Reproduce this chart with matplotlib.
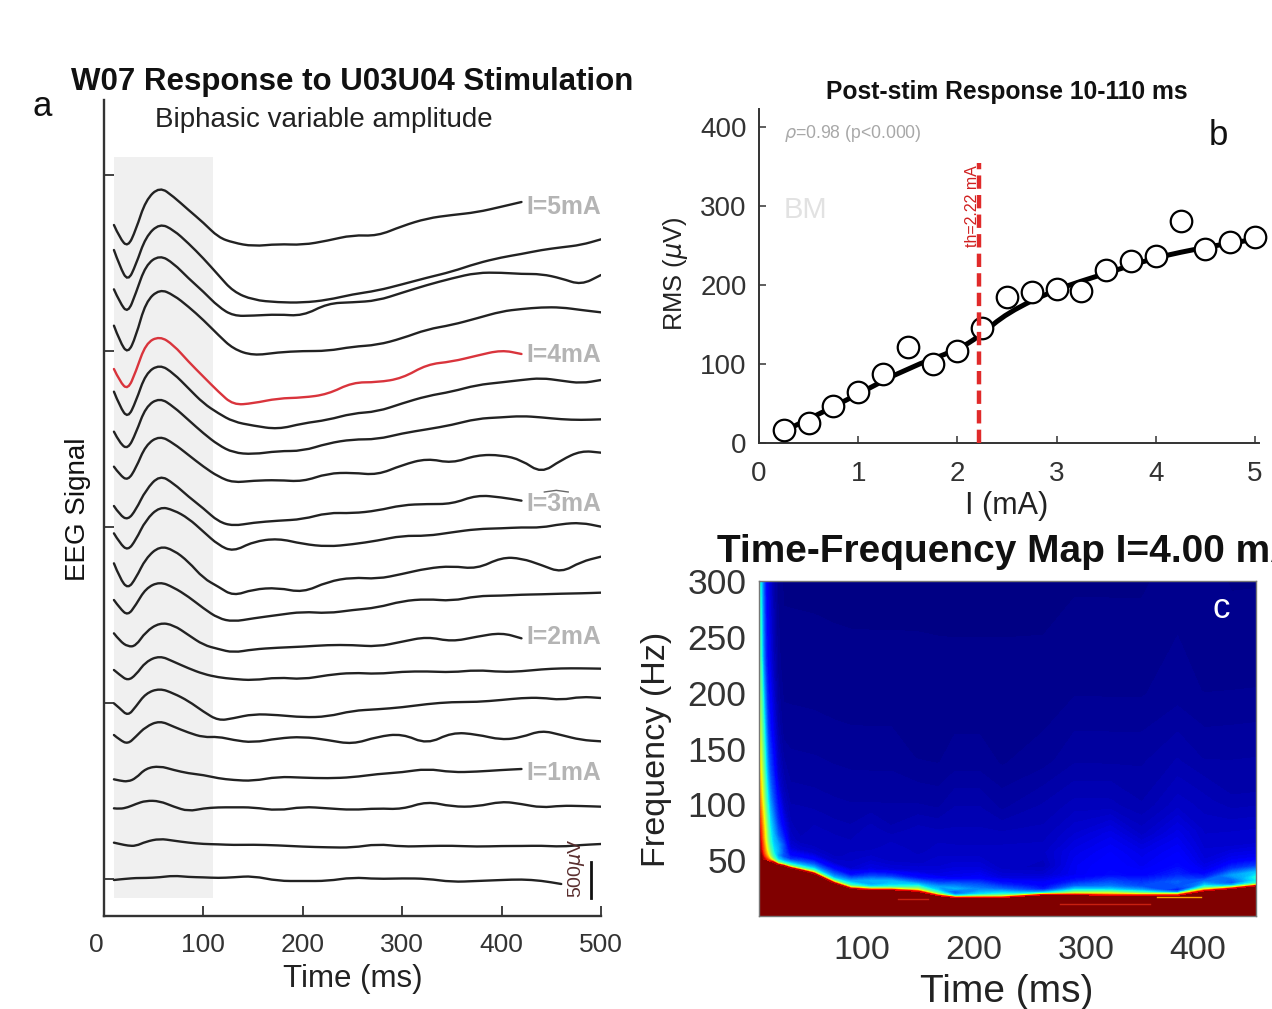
import numpy as np
import matplotlib
matplotlib.use("Agg")
import matplotlib.pyplot as plt
from matplotlib.path import Path
from matplotlib.patches import PathPatch

plt.rcParams['font.family'] = ['Liberation Sans', 'DejaVu Sans']
plt.rcParams['mathtext.fontset'] = 'dejavusans'

W, H = 1272, 1009

# ---- panel a: sampling times (ms) and stacked traces (arbitrary stacked units, down is positive)
t_eeg = [10, 16, 24, 32, 42, 56, 70, 85, 100, 115, 130, 150, 175, 200, 225, 250, 275, 300,
         325, 350, 375, 400, 420, 440, 460, 480, 500]

tr_500 = [225, 265, 292, 240, 150, 110, 140, 180, 218, 262, 278, 289, 282, 285, 272, 255, 258, 228, 205, 195, 187, 170, 156]
tr_475 = [300, 350, 395, 345, 260, 220, 240, 280, 325, 375, 425, 450, 457, 458, 450, 433, 422, 403, 383, 365, 340, 322, 312, 300, 292, 285, 268]
tr_450 = [418, 458, 490, 430, 345, 315, 340, 385, 425, 470, 498, 497, 493, 498, 460, 457, 452, 428, 405, 385, 368, 368, 372, 372, 385, 405, 375]
tr_425 = [527, 575, 612, 560, 455, 417, 435, 470, 510, 555, 597, 617, 607, 603, 603, 590, 585, 565, 538, 525, 505, 484, 477, 472, 472, 480, 487]
tr_400 = [657, 695, 720, 665, 580, 558, 585, 635, 680, 725, 765, 760, 745, 743, 733, 697, 697, 685, 643, 635, 617, 600, 612]
tr_375 = [725, 770, 805, 755, 670, 643, 670, 715, 760, 790, 815, 827, 838, 820, 810, 790, 785, 760, 738, 725, 705, 697, 690, 684, 692, 700, 690]
tr_350 = [845, 880, 898, 850, 770, 743, 770, 810, 850, 885, 908, 913, 903, 903, 880, 868, 868, 850, 838, 825, 806, 802, 798, 802, 808, 810, 808]
tr_325 = [950, 975, 992, 955, 885, 857, 880, 915, 950, 980, 998, 992, 990, 995, 970, 968, 975, 945, 925, 940, 915, 915, 930, 970, 930, 902, 908]
upper_traces = [tr_500, tr_475, tr_450, tr_425, tr_400, tr_375, tr_350, tr_325]

tr_300 = [18, 45, 60, 30, -30, -75, -50, -10, 25, 65, 78, 68, 62, 58, 38, 40, 32, 15, 12, 12, -15, -8, 2]
tr_275 = [100, 130, 152, 120, 60, 20, 30, 55, 95, 135, 155, 125, 115, 132, 140, 133, 122, 107, 108, 97, 87, 85, 82, 83, 72, 68, 80]
tr_250 = [190, 235, 267, 235, 175, 138, 150, 185, 235, 260, 288, 268, 263, 278, 245, 232, 237, 222, 205, 198, 207, 172, 175, 195, 218, 185, 170]
tr_225 = [300, 325, 347, 315, 265, 245, 262, 290, 325, 355, 365, 355, 345, 335, 340, 330, 323, 303, 297, 303, 288, 287, 284, 283, 281, 280, 278]
tr_200 = [400, 423, 440, 438, 395, 368, 375, 405, 435, 447, 458, 448, 443, 440, 435, 435, 440, 425, 410, 425, 410, 398, 415]
tr_175 = [510, 525, 542, 525, 485, 467, 485, 505, 522, 532, 537, 541, 532, 538, 525, 518, 522, 515, 514, 517, 510, 516, 514, 508, 505, 505, 506]
tr_150 = [610, 625, 648, 620, 580, 565, 580, 603, 635, 662, 655, 642, 645, 652, 650, 632, 628, 622, 612, 606, 606, 600, 594, 593, 600, 590, 594]
tr_125 = [705, 720, 732, 710, 680, 662, 680, 698, 712, 710, 720, 728, 715, 710, 720, 733, 710, 701, 733, 697, 703, 720, 712, 691, 705, 720, 724]
tr_100 = [838, 842, 845, 835, 805, 798, 810, 820, 825, 835, 840, 843, 830, 833, 835, 832, 822, 817, 806, 817, 815, 810, 807]
tr_075 = [925, 927, 922, 912, 902, 903, 920, 934, 925, 922, 922, 922, 932, 920, 925, 930, 925, 928, 904, 920, 920, 904, 912, 923, 917, 918, 920]
tr_050 = [1028, 1032, 1037, 1038, 1025, 1016, 1022, 1028, 1032, 1033, 1035, 1034, 1036, 1040, 1042, 1043, 1032, 1040, 1038, 1037, 1040, 1038, 1038, 1037, 1040, 1035, 1032]
tr_025 = [1140, 1138, 1136, 1134, 1134, 1132, 1127, 1131, 1132, 1134, 1132, 1128, 1143, 1143, 1143, 1132, 1137, 1135, 1136, 1146, 1143, 1140, 1138, 1142, 1152]
lower_traces = [tr_300, tr_275, tr_250, tr_225, tr_200, tr_175, tr_150, tr_125, tr_100, tr_075, tr_050, tr_025]
lower_shift = 1050

trace_labels = ['I=5mA', 'I=4mA', 'I=3mA', 'I=2mA', 'I=1mA']
trace_label_pos = [171, 616, 1061, 1461, 1868]
eeg_yticks = [75, 603, 1131, 1659, 2187]
eeg_xticks = [0, 100, 200, 300, 400, 500]

# ---- panel b: RMS against current
current = [0.25, 0.5, 0.75, 1, 1.25, 1.5, 1.75, 2, 2.25, 2.5, 2.75, 3, 3.25, 3.5, 3.75, 4, 4.25, 4.5, 4.75, 5]
rms = [16, 25, 47, 65, 88, 122, 100, 116, 146, 185, 191, 195, 192, 219, 230, 237, 281, 246, 254, 261]
fit_x = [0.25, 0.5, 1, 1.5, 2, 2.22, 2.5, 3, 3.5, 4, 4.5, 4.9]
fit_y = [15, 30, 62, 95, 118, 135, 165, 195, 215, 235, 248, 256]
threshold = 2.22

# ---- panel c: time-frequency map. Each row of tf_power is one time column, each value
# is the power at tf_offset Hz above the saturated floor tf_floor
tf_time = [8, 10, 12, 14, 16, 18, 21, 25, 30, 36, 45, 57, 75, 90, 108, 126, 150, 168, 183, 205, 225, 262, 290, 322, 350, 382, 406, 430, 452]
tf_floor = [53, 52, 51, 50.5, 50, 49, 48, 46, 45, 43, 41, 38, 29.5, 24.5, 23.5, 23.5, 22, 18.2, 16.5, 16.5, 16.5, 19, 19, 18.5, 18.5, 18.5, 22.5, 24.5, 27]
tf_offset = [0, 1.5, 3, 5, 8, 12, 18, 26, 38, 55, 80, 120, 180, 300]
tf_power = [
    [1, 1, 1, 1, 1, 1, .97, .93, .88, .8, .7, .6, .45, .33],
    [1, 1, .98, .95, .92, .9, .87, .84, .78, .7, .62, .52, .4, .3],
    [.95, .92, .88, .85, .82, .8, .75, .72, .66, .58, .5, .4, .26, .2],
    [.9, .85, .8, .76, .72, .68, .63, .6, .54, .45, .37, .28, .17, .12],
    [.85, .78, .72, .66, .6, .56, .5, .47, .42, .35, .27, .18, .12, .08],
    [.9, .72, .62, .55, .5, .45, .4, .37, .33, .27, .2, .14, .09, .06],
    [.95, .62, .5, .42, .38, .35, .32, .3, .26, .2, .15, .09, .05, .03],
    [.95, .55, .42, .33, .28, .3, .28, .22, .17, .13, .07, .04, .02, .01],
    [.95, .52, .38, .28, .2, .2, .2, .15, .1, .06, .04, .02, .01, .005],
    [.95, .55, .4, .3, .17, .12, .08, .06, .05, .04, .03, .02, .01, .005],
    [.95, .55, .4, .3, .2, .12, .07, .05, .04, .04, .03, .02, .01, .005],
    [.95, .6, .42, .32, .22, .13, .07, .05, .05, .04, .03, .02, .01, .005],
    [.95, .6, .42, .3, .22, .14, .07, .05, .05, .04, .03, .02, .01, .005],
    [.95, .6, .42, .35, .25, .14, .07, .06, .05, .04, .03, .02, .01, .005],
    [.9, .55, .35, .28, .3, .2, .09, .07, .05, .05, .03, .02, .01, .005],
    [.9, .55, .38, .33, .3, .18, .08, .06, .06, .04, .03, .02, .01, .005],
    [.92, .62, .5, .38, .25, .14, .08, .06, .05, .05, .03, .015, .01, .005],
    [.9, .55, .42, .33, .28, .18, .09, .07, .06, .05, .03, .015, .01, .005],
    [.9, .38, .25, .2, .3, .22, .1, .08, .06, .05, .04, .02, .01, .005],
    [.9, .5, .35, .3, .25, .2, .11, .08, .06, .05, .04, .02, .01, .005],
    [.9, .55, .4, .32, .22, .15, .08, .06, .06, .05, .03, .015, .01, .005],
    [.9, .4, .25, .15, .12, .1, .07, .05, .06, .05, .04, .02, .01, .005],
    [.9, .6, .45, .33, .22, .15, .1, .1, .09, .07, .05, .03, .015, .005],
    [.9, .65, .5, .35, .25, .2, .13, .12, .11, .09, .05, .03, .015, .005],
    [.9, .55, .4, .28, .2, .17, .12, .1, .09, .06, .04, .03, .015, .005],
    [.9, .55, .25, .14, .2, .22, .16, .13, .11, .09, .06, .04, .02, .01],
    [.92, .62, .45, .33, .25, .16, .1, .08, .07, .06, .05, .03, .015, .01],
    [.92, .55, .3, .2, .22, .28, .17, .1, .07, .06, .04, .03, .015, .005],
    [.92, .5, .38, .36, .38, .32, .18, .1, .07, .06, .04, .03, .015, .005],
]
streak_time = [[132, 159], [277, 357], [364, 403]]
streak_freq = [[15, 15], [11, 11], [17, 17]]
streak_color = ['#c82010', '#c82010', '#ffa000']


def px_axes(fig, left, top, right, bottom):
    return fig.add_axes([left / W, 1 - bottom / H, (right - left) / W, (bottom - top) / H])


def px_text(fig, x, y, s, **kw):
    kw.setdefault('ha', 'center')
    kw.setdefault('va', 'center')
    fig.text(x / W, 1 - (y + 2) / H, s, **kw)


def curve_line(ax, x, y, **kw):
    # rounded drawing of a sampled line, corners become quadratic curves
    pts = np.column_stack([x, y]).astype(float)
    verts = [pts[0]]
    codes = [Path.MOVETO]
    for i in range(1, len(pts) - 1):
        verts += [pts[i], (pts[i] + pts[i + 1]) / 2]
        codes += [Path.CURVE3, Path.CURVE3]
    verts.append(pts[-1])
    codes.append(Path.LINETO)
    ax.add_patch(PathPatch(Path(verts, codes), fill=False, capstyle='round', **kw))


fig = plt.figure(figsize=(W / 100, H / 100), dpi=100)

# Panel a
ax1 = px_axes(fig, 104, 100, 601, 916)
ax1.set_xlim(0, 500)
ax1.set_ylim(2298, -150)
ax1.fill_betweenx([21, 2244], 10, 110, color='#f0f0f0', lw=0, zorder=0)
for tr in upper_traces:
    col = '#d9343c' if tr is tr_400 else '#222222'
    curve_line(ax1, t_eeg[:len(tr)], tr, edgecolor=col, lw=1.7)
for tr in lower_traces:
    vals = np.array(tr) + lower_shift
    curve_line(ax1, t_eeg[:len(tr)], vals, edgecolor='#222222', lw=1.7)
for lab, y in zip(trace_labels, trace_label_pos):
    ax1.text(425, y, lab, color='#b4b4b4', fontsize=17.8, fontweight='bold', ha='left', va='center')
ax1.plot([443, 455, 467], [1026, 1021, 1026], color='#666666', lw=1)
ax1.plot([490, 490], [2135, 2245], color='#111111', lw=2)
ax1.text(475, 2154, '500$\\mu$V', color='#5a2f2f', fontsize=14, rotation=90, ha='center', va='center')
for side in ['top', 'right']:
    ax1.spines[side].set_visible(False)
for side in ['left', 'bottom']:
    ax1.spines[side].set_linewidth(1.7)
    ax1.spines[side].set_color('#333333')
ax1.set_xticks(eeg_xticks)
ax1.set_yticks(eeg_yticks)
ax1.set_yticklabels([])
ax1.tick_params(direction='in', length=7, width=1.3, color='#333333')
ax1.tick_params(axis='x', labelsize=19, labelcolor='#333333', pad=12)
ax1.get_xticklabels()[0].set_ha('right')

px_text(fig, 352, 80, 'W07 Response to U03U04 Stimulation', fontsize=22.5, fontweight='bold', color='#111111')
px_text(fig, 324, 118, 'Biphasic variable amplitude', fontsize=20, color='#222222')
px_text(fig, 42, 105, 'a', fontsize=25, color='#111111')
px_text(fig, 78, 507, 'EEG Signal', fontsize=20, rotation=90, color='#111111')
px_text(fig, 353, 977, 'Time (ms)', fontsize=22.5, color='#222222')

# Panel b
ax2 = px_axes(fig, 759, 109, 1259, 443)
ax2.set_xlim(0, 5.04)
ax2.set_ylim(0, 423)
curve_line(ax2, fit_x, fit_y, edgecolor='black', lw=3.6, zorder=2)
ax2.plot(current, rms, 'o', ms=15.5, mfc='white', mec='black', mew=1.6, clip_on=False, zorder=3)
ax2.plot([threshold, threshold], [0, 355], color='#e02a2a', lw=3.2, ls=(0, (3, 1.4)), zorder=4)
ax2.text(2.15, 300, 'th=2.22 mA', color='#d02020', fontsize=11.5, rotation=90, ha='center', va='center')
ax2.text(0.25, 392, '$\\rho$=0.98 (p<0.000)', color='#a8a8a8', fontsize=12.7, ha='left', va='center')
ax2.text(0.25, 295, 'BM', color='#e2e2e2', fontsize=21, ha='left', va='center')
for side in ['top', 'right']:
    ax2.spines[side].set_visible(False)
for side in ['left', 'bottom']:
    ax2.spines[side].set_linewidth(1.4)
    ax2.spines[side].set_color('#333333')
ax2.set_xticks([0, 1, 2, 3, 4, 5])
ax2.set_yticks([0, 100, 200, 300, 400])
ax2.tick_params(direction='in', length=5, width=1.1, color='#333333', labelsize=20, labelcolor='#333333')
ax2.tick_params(axis='x', pad=13)
ax2.tick_params(axis='y', pad=9)

px_text(fig, 1007, 90, 'Post-stim Response 10-110 ms', fontsize=17.7, fontweight='bold', color='#111111')
px_text(fig, 1218, 134, 'b', fontsize=25, color='#111111')
px_text(fig, 676, 272, 'RMS ($\\mu$V)', fontsize=18.4, rotation=90, color='#222222')
px_text(fig, 1007, 504, 'I (mA)', fontsize=22, color='#222222')

# Panel c
ax3 = px_axes(fig, 759, 581, 1256, 916)
ax3.set_facecolor('#800000')
power = np.array(tf_power).T
grid_t = np.tile(np.array(tf_time, dtype=float), (len(tf_offset), 1))
grid_f = np.array(tf_floor)[None, :] + np.array(tf_offset)[:, None]
ax3.contourf(grid_t, grid_f, power, levels=np.linspace(0, 1, 129), cmap='jet', vmin=0, vmax=1, extend='both')
for st, sf, sc in zip(streak_time, streak_freq, streak_color):
    ax3.plot(st, sf, color=sc, lw=1)
ax3.set_xlim(8, 452)
ax3.set_ylim(0, 300)
ax3.set_xticks([100, 200, 300, 400])
ax3.set_yticks([50, 100, 150, 200, 250, 300])
ax3.tick_params(length=0, labelcolor='#333333')
ax3.tick_params(axis='x', pad=14, labelsize=24.5)
ax3.tick_params(axis='y', pad=9, labelsize=25.5)
for side in ax3.spines.values():
    side.set_color('#777777')
    side.set_linewidth(1)

px_text(fig, 717, 550, 'Time-Frequency Map I=4.00 mA', fontsize=28, fontweight='bold', ha='left', color='#111111')
px_text(fig, 1221, 606, 'c', fontsize=25, color='white')
px_text(fig, 656, 747, 'Frequency (Hz)', fontsize=24.6, rotation=90, color='#222222')
px_text(fig, 1007, 990, 'Time (ms)', fontsize=28, color='#222222')

fig.savefig('out.png', dpi=100)
